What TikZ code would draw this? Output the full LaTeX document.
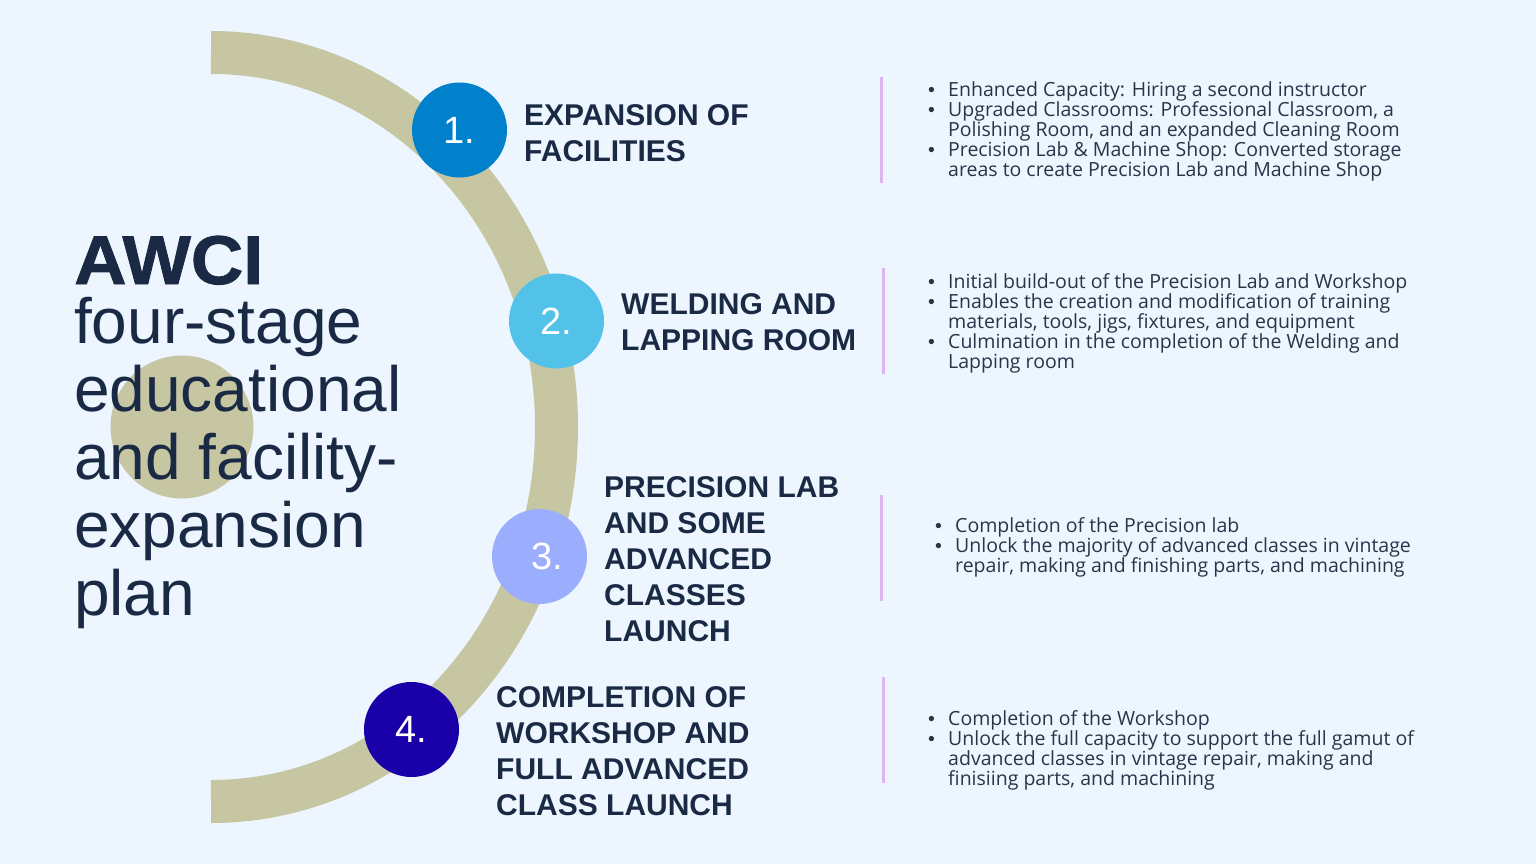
\documentclass[tikz,border=0pt]{standalone}
\usepackage{fontspec}
\setmainfont{Liberation Sans}
\newfontfamily\bodyfont{Open Sans}
\definecolor{bgc}{HTML}{EDF6FF}
\definecolor{bandc}{HTML}{C6C6A3}
\definecolor{navy}{HTML}{1A2A44}
\definecolor{slate}{HTML}{2A3348}
\definecolor{lilac}{HTML}{DDB5F2}
\definecolor{cone}{HTML}{0181CC}
\definecolor{ctwo}{HTML}{52C2E9}
\definecolor{cthree}{HTML}{9BAEFE}
\definecolor{cfour}{HTML}{1A00A9}
\newcommand{\bul}{\makebox[20pt][l]{\rmfamily\textbullet}}
\newcommand{\bi}[1]{\bul & \smash{#1}}
\newcommand{\bc}[1]{ & \smash{#1}}
\begin{document}
\begin{tikzpicture}[x=1pt,y=-1pt,
  headtext/.style={anchor=base west, inner sep=0pt, text=navy, font=\fontsize{30}{36}\selectfont\bfseries},
  bullettext/.style={anchor=base west, inner sep=0pt, text=slate, font=\bodyfont\fontsize{19.5}{20}\selectfont},
  numcirc/.style={circle, minimum size=95pt, inner sep=0pt, text=white, font=\fontsize{38}{38}\selectfont},
  divider/.style={draw=lilac, line width=3pt},
  band/.style={draw=bandc, line width=43pt}]
\useasboundingbox (0,0) rectangle (1536,864);
\fill[bgc] (0,0) rectangle (1536,864);
% arc band
\draw[band] (211,52.5) arc[start angle=90, end angle=-90, x radius=345.5pt, y radius=374.5pt];
% decorative circle
\fill[bandc] (182,427) circle[radius=71.5pt];
% title
\node[anchor=base west, inner sep=0pt, text=navy, font=\fontsize{69}{69}\selectfont\bfseries\addfontfeatures{FakeBold=1.2}] (title) at (74,284) {\scalebox{1.05}[1]{AWCI}};
\node[anchor=base west, inner sep=0pt, text=navy, font=\fontsize{64}{68}\selectfont] (subtitle) at (74,343)
  {\begin{tabular}[t]{@{}l@{}}four-stage\\educational\\and facility-\\expansion\\plan\end{tabular}};
% number circles
\node[numcirc, fill=cone] (n1) at (459.5,130) {1.};
\node[numcirc, fill=ctwo] (n2) at (556.5,321) {2.};
\node[numcirc, fill=cthree] (n3) at (539.5,556.5) {\hspace*{16pt}3.};
\node[numcirc, fill=cfour] (n4) at (411.5,729.5) {4.};
% headings
\node[headtext] (h1) at (524,125) {\begin{tabular}[t]{@{}l@{}}EXPANSION OF\\FACILITIES\end{tabular}};
\node[headtext] (h2) at (621,314) {\begin{tabular}[t]{@{}l@{}}WELDING AND\\LAPPING ROOM\end{tabular}};
\node[headtext] (h3) at (604,497) {\begin{tabular}[t]{@{}l@{}}PRECISION LAB\\AND SOME\\ADVANCED\\CLASSES\\LAUNCH\end{tabular}};
\node[headtext] (h4) at (496,707) {\begin{tabular}[t]{@{}l@{}}COMPLETION OF\\WORKSHOP AND\\FULL ADVANCED\\CLASS LAUNCH\end{tabular}};
% dividers
\draw[divider] (881,77) -- (881,183);
\draw[divider] (883,268) -- (883,374);
\draw[divider] (881,495) -- (881,601);
\draw[divider] (883,677) -- (883,783);
% bullet lists
\node[bullettext] (b1) at (928,97) {\begin{tabular}[t]{@{}l@{}l@{}}
\bi{Enhanced Capacity: Hiring a second instructor}\\
\bi{Upgraded Classrooms: Professional Classroom, a}\\
\bc{Polishing Room, and an expanded Cleaning Room}\\
\bi{Precision Lab \& Machine Shop: Converted storage}\\
\bc{areas to create Precision Lab and Machine Shop}\end{tabular}};
\node[bullettext] (b2) at (928,288) {\begin{tabular}[t]{@{}l@{}l@{}}
\bi{Initial build-out of the Precision Lab and Workshop}\\
\bi{Enables the creation and modification of training}\\
\bc{materials, tools, jigs, fixtures, and equipment}\\
\bi{Culmination in the completion of the Welding and}\\
\bc{Lapping room}\end{tabular}};
\node[bullettext] (b3) at (935,532) {\begin{tabular}[t]{@{}l@{}l@{}}
\bi{Completion of the Precision lab}\\
\bi{Unlock the majority of advanced classes in vintage}\\
\bc{repair, making and finishing parts, and machining}\end{tabular}};
\node[bullettext] (b4) at (928,725) {\begin{tabular}[t]{@{}l@{}l@{}}
\bi{Completion of the Workshop}\\
\bi{Unlock the full capacity to support the full gamut of}\\
\bc{advanced classes in vintage repair, making and}\\
\bc{finisiing parts, and machining}\end{tabular}};
\end{tikzpicture}
\end{document}
